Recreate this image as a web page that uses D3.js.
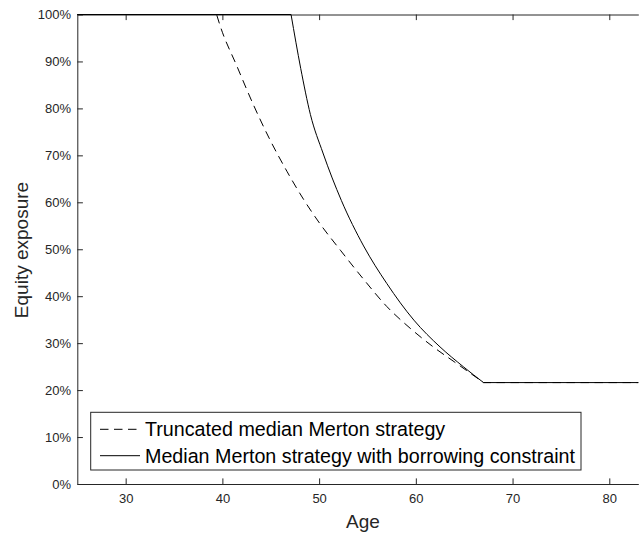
<!DOCTYPE html>
<html>
<head>
<meta charset="utf-8">
<script src="https://cdn.jsdelivr.net/npm/d3@7"></script>
<style>
  html, body { margin: 0; padding: 0; background: #fff; }
  svg { display: block; font-family: "Liberation Sans", Arial, Helvetica, sans-serif; }
</style>
</head>
<body>
<svg id="chart" width="639" height="533"></svg>
<script>
// Equity exposure by age for two glide-path strategies
const seriesNames = [
  "Truncated median Merton strategy",
  "Median Merton strategy with borrowing constraint"
];

// Truncated median Merton strategy (age, share in equities)
const truncatedAges = [25, 39.4, 39.8, 41.5, 43.2, 44.9, 46.7, 48.4, 50.1, 52.2, 54.6, 57.0, 59.4, 61.8, 64.2, 67, 83];
const truncatedValues = [1.00, 1.00, 0.974, 0.890, 0.808, 0.734, 0.665, 0.606, 0.554, 0.498, 0.436, 0.378, 0.332, 0.292, 0.257, 0.216, 0.216];

// Median Merton strategy with borrowing constraint
const constrainedAges = [25, 47.1, 48.1, 49.1, 50.4, 52.3, 54.6, 57.0, 59.8, 62.5, 64.9, 67, 83];
const constrainedValues = [1.00, 1.00, 0.885, 0.787, 0.705, 0.604, 0.507, 0.427, 0.349, 0.292, 0.250, 0.216, 0.216];

const xTicks = [30, 40, 50, 60, 70, 80];
const yTicks = [0, 0.1, 0.2, 0.3, 0.4, 0.5, 0.6, 0.7, 0.8, 0.9, 1.0];
const xLabel = "Age";
const yLabel = "Equity exposure";

const svg = d3.select("#chart");
const plotLeft = 77.3, plotRight = 638.3, plotTop = 14.5, plotBottom = 484;
const axisColor = "#262626";
const tickLen = 5.6;

const x = d3.scaleLinear().domain([25, 83]).range([plotLeft, plotRight]);
const y = d3.scaleLinear().domain([0, 1]).range([plotBottom, plotTop]);

// Axes (ticks point inward)
const gx = svg.append("g").attr("transform", `translate(0,${plotBottom})`)
  .call(d3.axisBottom(x).tickValues(xTicks).tickSizeInner(-tickLen).tickSizeOuter(0).tickPadding(10).tickFormat(d3.format("d")));
const gxt = svg.append("g").attr("transform", `translate(0,${plotTop})`)
  .call(d3.axisTop(x).tickValues(xTicks).tickSizeInner(-tickLen).tickSizeOuter(0).tickFormat(""));
const gy = svg.append("g").attr("transform", `translate(${plotLeft},0)`)
  .call(d3.axisLeft(y).tickValues(yTicks).tickSizeInner(-tickLen).tickSizeOuter(0).tickPadding(6.3).tickFormat(d => Math.round(d * 100) + "%"));

[gx, gxt, gy].forEach(g => {
  g.select(".domain").attr("stroke", axisColor).attr("stroke-width", 1);
  g.selectAll(".tick line").attr("stroke", axisColor).attr("stroke-width", 1);
  g.selectAll(".tick text").attr("fill", axisColor).style("font-size", "13px");
});

// Curves: flat cap, smooth decline, flat floor
const straight = d3.line().x(d => x(d[0])).y(d => y(d[1]));
const smooth = d3.line().x(d => x(d[0])).y(d => y(d[1])).curve(d3.curveMonotoneX);

function glidePath(ages, values) {
  const pts = ages.map((a, i) => [a, values[i]]);
  const n = pts.length;
  const cap = pts.slice(0, 2);
  const decline = pts.slice(1, n - 1);
  const floor = pts.slice(n - 2);
  return straight(cap) + smooth(decline).replace(/^M[^CL]*/, "") + straight(floor).replace(/^M[^L]*/, "");
}

svg.append("path").attr("d", glidePath(truncatedAges, truncatedValues))
  .attr("fill", "none").attr("stroke", "#000").attr("stroke-width", 1)
  .attr("stroke-dasharray", "8.5,5.5");
svg.append("path").attr("d", glidePath(constrainedAges, constrainedValues))
  .attr("fill", "none").attr("stroke", "#000").attr("stroke-width", 1);

// Axis titles
svg.append("text").attr("x", 363).attr("y", 528).attr("text-anchor", "middle")
  .attr("fill", axisColor).style("font-size", "19px").text(xLabel);
svg.append("text").attr("transform", "translate(27.5,250) rotate(-90)").attr("text-anchor", "middle")
  .attr("fill", axisColor).style("font-size", "19px").text(yLabel);

// Legend
const lg = svg.append("g");
lg.append("rect").attr("x", 90.7).attr("y", 412.3).attr("width", 490.3).attr("height", 57.7)
  .attr("fill", "#fff").attr("stroke", axisColor).attr("stroke-width", 1);
const rows = [
  { name: seriesNames[0], dash: "8.5,5.5", cy: 429.3 },
  { name: seriesNames[1], dash: null, cy: 455.7 }
];
rows.forEach(r => {
  lg.append("line").attr("x1", 100).attr("x2", 140).attr("y1", r.cy).attr("y2", r.cy)
    .attr("stroke", "#000").attr("stroke-width", 1).attr("stroke-dasharray", r.dash);
  lg.append("text").attr("x", 145).attr("y", r.cy + 7).attr("fill", "#000")
    .style("font-size", "19.7px").text(r.name);
});
</script>
</body>
</html>
